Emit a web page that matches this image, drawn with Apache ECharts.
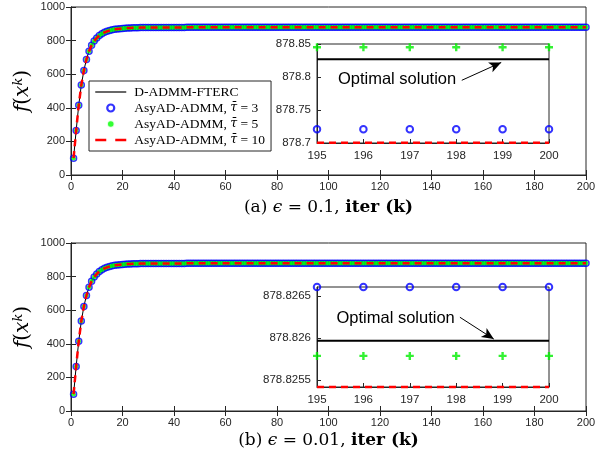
<!DOCTYPE html>
<html><head><meta charset="utf-8">
<script src="https://cdn.jsdelivr.net/npm/echarts@6/dist/echarts.min.js"></script>
<style>html,body{margin:0;padding:0;background:#fff}#c{width:607px;height:457px}</style>
</head><body><div id="c"></div><script>
// objective value f(x^k) per iteration k = 1..200
const fMain = [
100, 265, 415, 535, 622, 688, 737, 772, 797, 816,
830, 841, 849, 855, 860, 864, 867, 869, 871, 872.5,
873.8, 874.8, 875.5, 876.1, 876.6, 877.0, 877.3, 877.6, 877.8, 878.0,
878.1, 878.2, 878.3, 878.4, 878.45, 878.5, 878.55, 878.6, 878.62, 878.65,
878.67, 878.69, 878.7, 878.72, 878.73, 878.74, 878.75, 878.76, 878.77, 878.77,
878.78, 878.78, 878.78, 878.79, 878.79, 878.79, 878.79, 878.8, 878.8, 878.8,
878.8, 878.8, 878.8, 878.8, 878.8, 878.81, 878.81, 878.81, 878.81, 878.81,
878.81, 878.81, 878.81, 878.81, 878.81, 878.81, 878.81, 878.81, 878.81, 878.81,
878.82, 878.82, 878.82, 878.82, 878.82, 878.82, 878.82, 878.82, 878.82, 878.82,
878.82, 878.82, 878.82, 878.82, 878.82, 878.82, 878.82, 878.82, 878.82, 878.82,
878.82, 878.82, 878.82, 878.82, 878.82, 878.82, 878.82, 878.82, 878.82, 878.82,
878.82, 878.82, 878.82, 878.82, 878.82, 878.82, 878.82, 878.82, 878.82, 878.82,
878.82, 878.82, 878.82, 878.82, 878.82, 878.82, 878.82, 878.82, 878.82, 878.82,
878.82, 878.82, 878.82, 878.82, 878.82, 878.82, 878.82, 878.82, 878.82, 878.82,
878.82, 878.82, 878.82, 878.82, 878.82, 878.82, 878.82, 878.82, 878.82, 878.82,
878.82, 878.82, 878.82, 878.82, 878.82, 878.82, 878.82, 878.82, 878.82, 878.82,
878.82, 878.82, 878.82, 878.82, 878.82, 878.82, 878.82, 878.82, 878.82, 878.82,
878.82, 878.82, 878.82, 878.82, 878.82, 878.82, 878.82, 878.82, 878.82, 878.82,
878.82, 878.82, 878.82, 878.82, 878.82, 878.82, 878.82, 878.82, 878.82, 878.82,
878.82, 878.82, 878.82, 878.82, 878.82, 878.82, 878.82, 878.82, 878.82, 878.82
];
// zoomed insets, k = 195..200
const insetK = [195, 196, 197, 198, 199, 200];
const topBlack = [878.827, 878.827, 878.827, 878.827, 878.827, 878.827];
const topBlue  = [878.721, 878.721, 878.721, 878.721, 878.721, 878.721];
const topGreen = [878.845, 878.845, 878.845, 878.845, 878.845, 878.845];
const topRed   = [878.7003, 878.7003, 878.7003, 878.7003, 878.7003, 878.7003];
const botBlack = [878.82597, 878.82597, 878.82597, 878.82597, 878.82597, 878.82597];
const botBlue  = [878.82661, 878.82661, 878.82661, 878.82661, 878.82661, 878.82661];
const botGreen = [878.82579, 878.82579, 878.82579, 878.82579, 878.82579, 878.82579];
const botRed   = [878.82542, 878.82542, 878.82542, 878.82542, 878.82542, 878.82542];
// inset y tick labels
const topInsetTicks = [878.7, 878.75, 878.8, 878.85];
const botInsetTicks = [878.8255, 878.826, 878.8265];

const names = ['D-ADMM-FTERC', 'AsyAD-ADMM, τ\u0304 = 3', 'AsyAD-ADMM, τ\u0304 = 5', 'AsyAD-ADMM, τ\u0304 = 10'];
const captions = ['(a) ', '(b) '];
const epsVals = ['0.1', '0.01'];

const mainPairs = fMain.map((v, i) => [i + 1, v]);
const pairs = arr => insetK.map((k, i) => [k, arr[i]]);

const TC = '#262626';
const SERIF = '"Liberation Serif", "DejaVu Serif", serif';
const DSERIF = '"DejaVu Serif", serif';
const SANS = '"Liberation Sans", Arial, sans-serif';
const plusPath = 'path://M3.5,0H6.5V3.5H10V6.5H6.5V10H3.5V6.5H0V3.5H3.5Z';

function mainX(gi, bottom) {
  const ax = {
    type: 'value', gridIndex: gi, min: 0, max: 200, interval: 20,
    position: bottom ? 'bottom' : 'top',
    axisLine: { show: true, lineStyle: { color: TC, width: 1 } },
    axisTick: { show: true, inside: true, length: 5, lineStyle: { color: TC } },
    axisLabel: { show: bottom, color: TC, fontSize: 11, fontFamily: SANS, margin: 6 },
    splitLine: { show: false }
  };
  if (bottom) {
    ax.name = '{n|' + captions[gi] + '}{i|ϵ}{n| = ' + epsVals[gi] + ', }{b|iter (k)}';
    ax.nameLocation = 'middle';
    ax.nameGap = gi === 0 ? 24 : 21;
    ax.nameTextStyle = { rich: {
      n: { fontFamily: DSERIF, fontSize: 17, color: '#000' },
      i: { fontFamily: DSERIF, fontSize: 17, fontStyle: 'italic', color: '#000' },
      b: { fontFamily: DSERIF, fontSize: 17, fontWeight: 'bold', color: '#000' }
    } };
  }
  return ax;
}
function mainY(gi, left) {
  const ax = {
    type: 'value', gridIndex: gi, min: 0, max: 1000, interval: 200,
    position: left ? 'left' : 'right',
    axisLine: { show: true, lineStyle: { color: TC, width: 1 } },
    axisTick: { show: true, inside: true, length: 5, lineStyle: { color: TC } },
    axisLabel: { show: left, color: TC, fontSize: 11, fontFamily: SANS, margin: 6, formatter: v => String(v) },
    splitLine: { show: false }
  };
  if (left) {
    ax.name = '{i|f}{n|(}{i|x}{s|k}{n|)}';
    ax.nameLocation = 'middle';
    ax.nameGap = 37;
    ax.nameMoveOverlap = false;
    ax.nameTextStyle = { rich: {
      n: { fontFamily: DSERIF, fontSize: 20, color: '#000', lineHeight: 22 },
      i: { fontFamily: DSERIF, fontSize: 20, fontStyle: 'italic', color: '#000', lineHeight: 22 },
      s: { fontFamily: DSERIF, fontSize: 13, fontStyle: 'italic', color: '#000', verticalAlign: 'top', lineHeight: 22 }
    } };
  }
  return ax;
}
const fmt = v => String(parseFloat(Number(v).toFixed(5)));
function insetX(gi) {
  return {
    type: 'value', gridIndex: gi, min: 195, max: 200, interval: 1, z: 11,
    axisLine: { show: true, lineStyle: { color: TC } },
    axisTick: { show: true, inside: true, length: 4, lineStyle: { color: TC } },
    axisLabel: { color: TC, fontSize: 11.5, fontFamily: SANS, margin: 7 },
    splitLine: { show: false }
  };
}
function insetY(gi, min, max, ticks) {
  return {
    type: 'value', gridIndex: gi, min: min, max: max, z: 11,
    axisLine: { show: true, lineStyle: { color: TC } },
    axisTick: { show: true, inside: true, length: 4, lineStyle: { color: TC }, customValues: ticks },
    axisLabel: { color: TC, fontSize: 11.5, fontFamily: SANS, margin: 6, formatter: fmt, customValues: ticks,
                 showMinLabel: true, showMaxLabel: true },
    splitLine: { show: false }
  };
}

function mainSeries(xi, yi) {
  return [
    { name: names[0], type: 'line', xAxisIndex: xi, yAxisIndex: yi, data: mainPairs, symbol: 'none',
      itemStyle: { color: '#000' }, lineStyle: { color: '#000', width: 1 }, z: 2 },
    { name: names[1], type: 'scatter', xAxisIndex: xi, yAxisIndex: yi, data: mainPairs, symbol: 'circle', symbolSize: 6,
      itemStyle: { color: 'rgba(0,0,0,0)', borderColor: '#0000ff', borderWidth: 1.5 }, z: 3 },
    { name: names[2], type: 'scatter', xAxisIndex: xi, yAxisIndex: yi, data: mainPairs, symbol: 'circle', symbolSize: 4.5,
      itemStyle: { color: '#00ff00' }, z: 4 },
    { name: names[3], type: 'line', xAxisIndex: xi, yAxisIndex: yi, data: mainPairs, symbol: 'none',
      itemStyle: { color: '#ff0000' }, lineStyle: { color: '#ff0000', width: 2.5, type: [7, 5] }, z: 5 }
  ];
}
function insetSeries(xi, yi, b, bl, g, r, arrow) {
  return [
    { name: names[0], type: 'line', xAxisIndex: xi, yAxisIndex: yi, data: pairs(b), symbol: 'none', clip: false,
      itemStyle: { color: '#000' }, lineStyle: { color: '#000', width: 2 }, z: 12,
      markLine: { silent: true, z: 25, symbol: ['none', 'arrow'], symbolSize: [8, 12], label: { show: false },
        lineStyle: { color: '#000', width: 1, type: 'solid' },
        data: [[{ coord: arrow[0] }, { coord: arrow[1] }]] } },
    { name: names[1], type: 'scatter', xAxisIndex: xi, yAxisIndex: yi, data: pairs(bl), symbol: 'circle', symbolSize: 6.5, clip: false,
      itemStyle: { color: 'rgba(0,0,0,0)', borderColor: '#0000ff', borderWidth: 2 }, z: 13 },
    { name: names[2], type: 'scatter', xAxisIndex: xi, yAxisIndex: yi, data: pairs(g), symbol: plusPath, symbolSize: 8, clip: false,
      itemStyle: { color: '#00ee00' }, z: 13 },
    { name: names[3], type: 'line', xAxisIndex: xi, yAxisIndex: yi, data: pairs(r), symbol: 'none', clip: false,
      itemStyle: { color: '#ff0000' }, lineStyle: { color: '#ff0000', width: 2.5, type: [7, 5] }, z: 14 }
  ];
}

// annotation anchor points in inset data coordinates
const topArrow = [[198.12, 878.795], [198.97, 878.822]];
const botArrow = [[198.08, 878.82625], [198.81, 878.82599]];
const topTextAt = [195.45, 878.796];
const botTextAt = [195.42, 878.82624];

const chart = echarts.init(document.getElementById('c'), null, { renderer: 'canvas' });
const gridBase = { show: true, borderColor: TC, borderWidth: 1, backgroundColor: '#fff', containLabel: false, outerBoundsMode: 'none' };
chart.setOption({
  animation: false,
  backgroundColor: '#fff',
  grid: [
    Object.assign({ left: 71, top: 7, width: 515, height: 168, z: 0 }, gridBase),
    Object.assign({ left: 71, top: 243, width: 515, height: 168, z: 0 }, gridBase),
    Object.assign({ left: 317, top: 44, width: 232, height: 99, z: 10 }, gridBase),
    Object.assign({ left: 317, top: 287, width: 232, height: 100, z: 10 }, gridBase)
  ],
  xAxis: [mainX(0, true), mainX(0, false), mainX(1, true), mainX(1, false), insetX(2), insetX(3)],
  yAxis: [mainY(0, true), mainY(0, false), mainY(1, true), mainY(1, false),
          insetY(2, 878.7, 878.85, topInsetTicks), insetY(3, 878.82542, 878.82661, botInsetTicks)],
  legend: {
    show: true, orient: 'vertical', left: 89, top: 81,
    padding: [4, 6, 4, 5], itemWidth: 31, itemHeight: 7, itemGap: 2,
    backgroundColor: '#fff', borderColor: TC, borderWidth: 1, borderRadius: 0,
    data: [
      { name: names[0], itemStyle: { opacity: 0 }, lineStyle: { width: 1.2 } },
      { name: names[1], itemStyle: { color: '#fff', borderColor: '#0000ff', borderWidth: 2.2 } },
      { name: names[2], itemStyle: { color: '#00ff00', borderColor: '#fff', borderWidth: 1.5 } },
      { name: names[3], itemStyle: { opacity: 0 }, lineStyle: { width: 2.5, type: [11, 9] } }
    ],
    formatter: function (n) {
      const m = n.match(/^(AsyAD-ADMM, )(τ\u0304)( = \d+)$/);
      if (!m) return '{n|' + n + '}';
      return '{n|' + m[1] + '}{i|' + m[2] + '}{n|' + m[3] + '}';
    },
    textStyle: { padding: [0, 0, 0, 3], rich: {
      n: { fontFamily: SERIF, fontSize: 13.5, color: '#000', lineHeight: 14 },
      i: { fontFamily: DSERIF, fontSize: 12.5, fontStyle: 'italic', color: '#000', lineHeight: 14 }
    } }
  },
  series: [].concat(
    mainSeries(0, 0), mainSeries(2, 2),
    insetSeries(4, 4, topBlack, topBlue, topGreen, topRed, topArrow),
    insetSeries(5, 5, botBlack, botBlue, botGreen, botRed, botArrow)
  )
});

const pt = chart.convertToPixel({ gridIndex: 2 }, topTextAt);
const pb = chart.convertToPixel({ gridIndex: 3 }, botTextAt);
const textEl = (p) => ({ type: 'text', x: p[0], y: p[1], z: 30,
  style: { text: 'Optimal solution', fill: '#000', font: '16.5px ' + SANS, verticalAlign: 'middle', textVerticalAlign: 'middle' } });
chart.setOption({ graphic: [textEl(pt), textEl(pb)] });
</script></body></html>
